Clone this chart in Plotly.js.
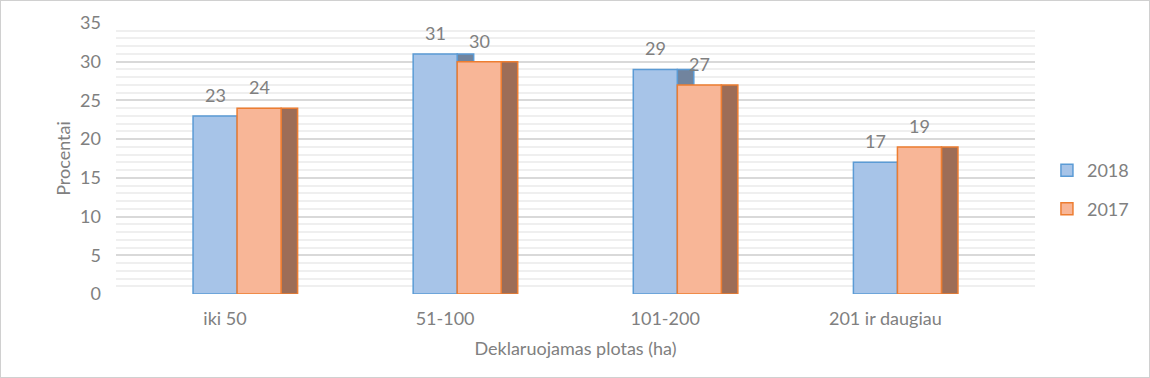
<!DOCTYPE html>
<html>
<head>
<meta charset="utf-8">
<script src="https://cdn.plot.ly/plotly-3.0.1.min.js"></script>
<style>
  html, body { margin: 0; padding: 0; background: #fff; }
  #chart { width: 1148px; height: 376px; border: 1px solid #d0d0d0; }
</style>
</head>
<body>
<div id="chart"></div>
<script>
// ---- data ----
const categories = ["iki 50", "51-100", "101-200", "201 ir daugiau"];
const seriesNames = ["2018", "2017"];
const values2018 = [23, 31, 29, 17];
const values2017 = [24, 30, 27, 19];
const yTicks = [0, 5, 10, 15, 20, 25, 30, 35];
const xTitle = "Deklaruojamas plotas (ha)";
const yTitle = "Procentai";

// ---- styling ----
const font = "Lato, 'Open Sans', sans-serif";
const fs = 18;
const textGray = "#808080";
const xPos = categories.map((c, i) => i);

const blueFill = "#a7c4e8", blueLine = "#5b9bd5", blueSide = "#71849e";
const orangeFill = "#f8b697", orangeLine = "#ed7d31", orangeSide = "#9d6d57";

const frontW = 0.2, sideW = 0.075;
const blueOff = -0.145, orangeOff = 0.055;

function bar(name, vals, off, w, fill, line, show) {
  return {
    type: "bar", x: xPos, y: vals, name: name,
    offset: off, width: w,
    marker: { color: fill, line: { color: line, width: 1.5 } },
    showlegend: show, legendgroup: name, hoverinfo: "skip"
  };
}

const traces = [
  bar("2018s", values2018, blueOff + frontW, sideW, blueSide, blueLine, false),
  bar("2017s", values2017, orangeOff + frontW, sideW, orangeSide, orangeLine, false),
  bar(seriesNames[0], values2018, blueOff, frontW, blueFill, blueLine, true),
  bar(seriesNames[1], values2017, orangeOff, frontW, orangeFill, orangeLine, true)
];

const annotations = [];
[[values2018, blueOff], [values2017, orangeOff]].forEach(([vals, off]) => {
  vals.forEach((v, i) => {
    annotations.push({
      x: xPos[i] + off + frontW / 2, y: v, xref: "x", yref: "y",
      text: String(v), showarrow: false, yanchor: "middle", yshift: 21,
      font: { family: font, size: fs, color: textGray }
    });
  });
});

const layout = {
  width: 1148, height: 376,
  margin: { l: 115, r: 114, t: 22, b: 83 },
  paper_bgcolor: "#fff", plot_bgcolor: "#fff",
  font: { family: font, size: fs, color: textGray },
  barmode: "overlay",
  showlegend: true,
  legend: {
    x: 1.013, xanchor: "left", y: 0.385, yanchor: "middle",
    traceorder: "grouped", tracegroupgap: 12,
    font: { family: font, size: fs, color: textGray },
    itemwidth: 30
  },
  xaxis: {
    type: "linear", range: [-0.495, 3.68],
    tickvals: xPos, ticktext: categories,
    showgrid: false, zeroline: false, showline: false,
    ticks: "", ticklabelstandoff: 12,
    title: { text: xTitle, font: { family: font, size: fs, color: textGray }, standoff: 14 }
  },
  yaxis: {
    range: [0, 35], tickvals: yTicks, ticktext: yTicks.map(String),
    showgrid: true, gridcolor: "#d9d9d9", gridwidth: 2,
    zeroline: false, showline: false, ticks: "", ticklabelstandoff: 14,
    minor: { dtick: 1, showgrid: true, gridcolor: "#efefef", gridwidth: 2 },
    title: { text: yTitle, font: { family: font, size: fs, color: textGray }, standoff: 4 }
  },
  annotations: annotations
};

Plotly.newPlot("chart", traces, layout, { displayModeBar: false, staticPlot: true });
</script>
</body>
</html>
